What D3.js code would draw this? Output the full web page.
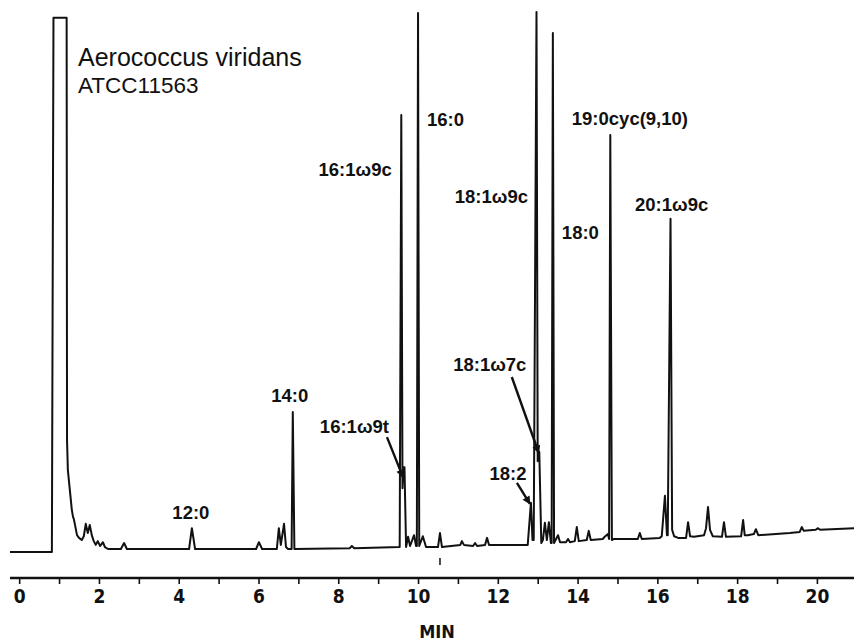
<!DOCTYPE html>
<html>
<head>
<meta charset="utf-8">
<script src="https://cdn.jsdelivr.net/npm/d3@7/dist/d3.min.js"></script>
<style>
  html, body { margin: 0; padding: 0; background: #fff; }
  svg { display: block; }
</style>
</head>
<body>
<svg id="chart" width="854" height="642"></svg>
<script>
// ---------------- DATA ----------------
const title = "Aerococcus viridans";
const strain = "ATCC11563";
const axisTitle = "MIN";
const tickValues = [0, 1, 2, 3, 4, 5, 6, 7, 8, 9, 10, 11, 12, 13, 14, 15, 16, 17, 18, 19, 20];
const tickLabels = ["0", "", "2", "", "4", "", "6", "", "8", "", "10", "", "12", "", "14", "", "16", "", "18", "", "20"];

// detector trace: [retention time (min), signal (% of full scale)]
const trace = [
  [-0.23, 0.19], [0.82, 0.19], [0.86, 99.1], [1.19, 99.1], [1.20, 20.9], [1.22, 15.4],
  [1.27, 11.7], [1.32, 8.0], [1.35, 6.7], [1.37, 6.3], [1.40, 5.2], [1.45, 3.3],
  [1.50, 2.8], [1.57, 2.4], [1.62, 3.1], [1.67, 5.4], [1.72, 3.7], [1.77, 5.2],
  [1.82, 3.3], [1.87, 2.2], [1.92, 1.5], [1.97, 2.2], [2.03, 1.3], [2.10, 2.0],
  [2.15, 1.1], [2.23, 0.74], [2.55, 0.74], [2.63, 1.85], [2.70, 0.74],
  [4.26, 0.74], [4.33, 4.6], [4.41, 0.74],
  [5.94, 0.74], [6.01, 2.0], [6.09, 0.74],
  [6.46, 0.74], [6.51, 4.6], [6.56, 1.5], [6.64, 5.4], [6.69, 1.1], [6.74, 0.74],
  [6.83, 0.74], [6.86, 26.1], [6.90, 0.74],
  [8.29, 0.9], [8.34, 1.3], [8.40, 0.9],
  [9.54, 1.1], [9.58, 81.1], [9.61, 12.0], [9.63, 15.9], [9.66, 15.9], [9.70, 1.1],
  [9.75, 3.0], [9.80, 1.3], [9.90, 3.3], [9.95, 1.3],
  [9.97, 1.3], [10.00, 100], [10.03, 1.3], [10.12, 3.1], [10.20, 1.1],
  [10.50, 1.1], [10.55, 3.7], [10.60, 1.1],
  [11.06, 1.5], [11.10, 2.2], [11.15, 1.5],
  [11.38, 1.3], [11.43, 1.85], [11.48, 1.3],
  [11.68, 1.5], [11.73, 2.8], [11.78, 1.5],
  [12.75, 1.5], [12.83, 9.3], [12.87, 2.4], [12.90, 2.4], [12.97, 100.2],
  [13.00, 17.0], [13.04, 18.7], [13.09, 1.85], [13.13, 2.4], [13.18, 5.6],
  [13.23, 2.4], [13.28, 5.7], [13.33, 1.85], [13.35, 1.85], [13.38, 96.3], [13.41, 1.85],
  [13.51, 3.3], [13.56, 2.0], [13.71, 2.0], [13.76, 2.6], [13.81, 2.0],
  [13.93, 2.2], [13.98, 4.8], [14.03, 2.2],
  [14.23, 2.4], [14.28, 4.1], [14.33, 2.4],
  [14.63, 2.6], [14.68, 3.0], [14.76, 3.5], [14.79, 2.6], [14.82, 77.4], [14.86, 2.4],
  [14.91, 2.6], [15.51, 2.6], [15.56, 3.7], [15.61, 2.6],
  [16.06, 2.8], [16.11, 3.1], [16.19, 10.6], [16.24, 3.3], [16.26, 3.3], [16.33, 61.9],
  [16.37, 4.3], [16.42, 3.1], [16.52, 2.8],
  [16.72, 2.8], [16.77, 5.7], [16.82, 3.1], [16.92, 3.0],
  [17.17, 3.3], [17.22, 4.6], [17.27, 8.5], [17.32, 4.3], [17.39, 3.1],
  [17.62, 3.0], [17.67, 5.7], [17.72, 3.0],
  [18.10, 3.1], [18.15, 6.1], [18.19, 3.3], [18.27, 3.3],
  [18.42, 3.5], [18.47, 4.4], [18.53, 3.3],
  [19.32, 3.7], [19.57, 3.9], [19.62, 4.8], [19.67, 4.1],
  [19.97, 4.3], [20.02, 4.6], [20.08, 4.3], [20.93, 4.6]
];

const peakNames  = ["12:0", "14:0", "16:1\u03c99t", "16:1\u03c99c", "16:0", "18:2", "18:1\u03c99c", "18:1\u03c97c", "18:0", "19:0cyc(9,10)", "20:1\u03c99c"];
const peakTimes  = [4.33, 6.86, 9.66, 9.58, 10.00, 12.83, 12.97, 13.04, 13.38, 14.82, 16.33];
const peakValues = [4.6, 26.1, 15.9, 81.1, 100, 9.3, 100.2, 18.7, 96.3, 77.4, 61.9];

// ---------------- LAYOUT ----------------
// label placement relative to the peak apex (px), and optional arrow
const labelLayout = [
  { dx: -1,    dy: -9,  anchor: "middle" },
  { dx: -3,    dy: -10, anchor: "middle" },
  { dx: -15.5, dy: -34, anchor: "end", arrow: [-17.5, -30, -1.5, 10] },
  { dx: -9.5,  dy: 61,  anchor: "end" },
  { dx: 9,     dy: 113, anchor: "start" },
  { dx: -23,   dy: -23, anchor: "middle", arrow: [-14, -20, -1, 1] },
  { dx: -8.5,  dy: 191, anchor: "end" },
  { dx: -49.5, dy: -81, anchor: "middle", arrow: [-27.5, -75, -0.5, 1] },
  { dx: 9,     dy: 206, anchor: "start" },
  { dx: -38.5, dy: -10, anchor: "start" },
  { dx: -35.5, dy: -8,  anchor: "start" }
];

const svg = d3.select("#chart");

const x = d3.scaleLinear().domain([-0.23, 20.93]).range([10, 854]);
const y = d3.scaleLinear().domain([0, 100]).range([553, 13]);

const ink = "#111";
const labelFont = "'Liberation Sans', Arial, Helvetica, sans-serif";
const narrowFont = "'Liberation Sans Narrow', 'Arial Narrow', 'DejaVu Sans Condensed', sans-serif";

// arrow marker
svg.append("defs").append("marker")
  .attr("id", "ah")
  .attr("viewBox", "0 0 10 10")
  .attr("refX", 9).attr("refY", 5)
  .attr("markerWidth", 4.2).attr("markerHeight", 3.4)
  .attr("markerUnits", "strokeWidth")
  .attr("orient", "auto")
  .append("path").attr("d", "M0,0 L10,5 L0,10 Z").attr("fill", ink);

// trace
const line = d3.line().x(d => x(d[0])).y(d => y(d[1]));
svg.append("path")
  .datum(trace)
  .attr("d", line)
  .attr("fill", "none")
  .attr("stroke", ink)
  .attr("stroke-width", 2)
  .attr("stroke-linejoin", "round");

// axis
const axisY = 578;
const axis = d3.axisBottom(x)
  .tickValues(tickValues)
  .tickSize(6)
  .tickPadding(6)
  .tickFormat((d, i) => tickLabels[i]);
const gAxis = svg.append("g").attr("transform", `translate(0,${axisY})`).call(axis);
gAxis.select(".domain").remove();
gAxis.append("line")
  .attr("x1", 10).attr("x2", 854).attr("y1", 0).attr("y2", 0)
  .attr("stroke", ink).attr("stroke-width", 2.4);
gAxis.selectAll(".tick line").attr("stroke", ink).attr("stroke-width", 1.6);
gAxis.selectAll(".tick text")
  .attr("fill", ink)
  .style("font-family", narrowFont)
  .style("font-weight", "bold")
  .style("font-size", "19px");

svg.append("text")
  .attr("x", 437).attr("y", 638)
  .attr("text-anchor", "middle")
  .style("font-family", narrowFont)
  .style("font-weight", "bold")
  .style("font-size", "18px")
  .attr("fill", ink)
  .text(axisTitle);

// stray mark near axis (from scan)
svg.append("line")
  .attr("x1", x(10.55)).attr("x2", x(10.55))
  .attr("y1", 558).attr("y2", 565)
  .attr("stroke", ink).attr("stroke-width", 1.5);

// title
svg.append("text")
  .attr("x", 78).attr("y", 66)
  .style("font-family", labelFont)
  .style("font-size", "25px")
  .attr("fill", ink)
  .text(title);
svg.append("text")
  .attr("x", 78).attr("y", 93)
  .style("font-family", labelFont)
  .style("font-size", "22.5px")
  .attr("fill", ink)
  .text(strain);

// peak labels
peakNames.forEach((name, i) => {
  const px = x(peakTimes[i]), py = y(peakValues[i]);
  const L = labelLayout[i];
  svg.append("text")
    .attr("x", px + L.dx).attr("y", py + L.dy)
    .attr("text-anchor", L.anchor)
    .style("font-family", labelFont)
    .style("font-weight", "bold")
    .style("font-size", "18.5px")
    .attr("fill", ink)
    .text(name);
  if (L.arrow) {
    svg.append("line")
      .attr("x1", px + L.arrow[0]).attr("y1", py + L.arrow[1])
      .attr("x2", px + L.arrow[2]).attr("y2", py + L.arrow[3])
      .attr("stroke", ink).attr("stroke-width", 2.4)
      .attr("marker-end", "url(#ah)");
  }
});
</script>
</body>
</html>
